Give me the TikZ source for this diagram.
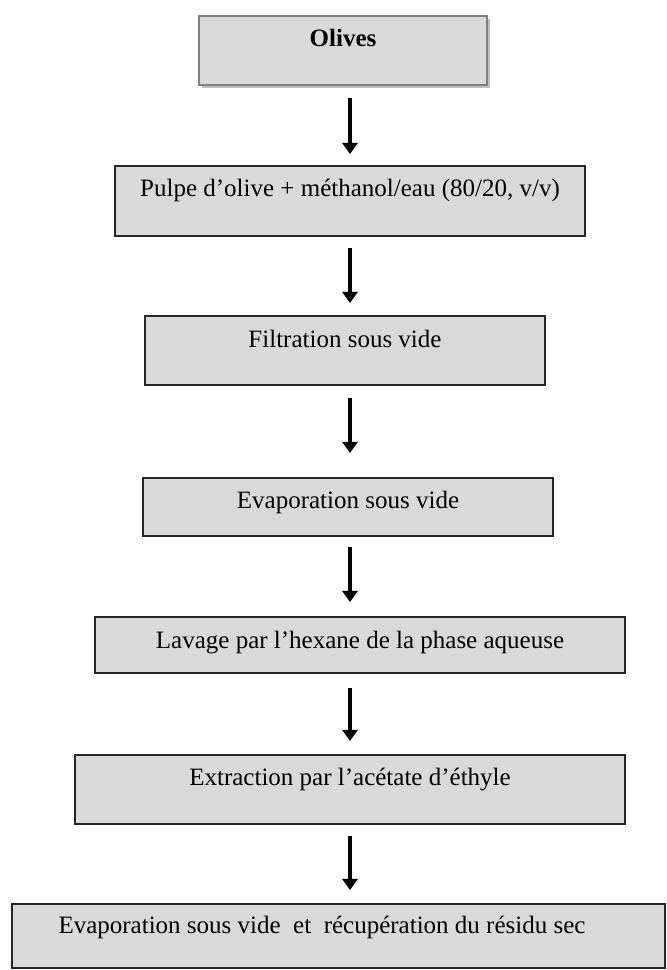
\documentclass[tikz,border=0pt]{standalone}
\usepackage{fontspec}
\setmainfont{Liberation Serif}
\usetikzlibrary{arrows.meta,shadows}

\definecolor{boxgrey}{HTML}{D9D9D9}
\definecolor{rimgrey}{HTML}{7F7F7F}

\tikzset{
    headbox/.style={rectangle, draw=rimgrey, line width=1pt, fill=boxgrey, inner sep=0pt,
        drop shadow={shadow xshift=1.5pt, shadow yshift=-1.5pt, fill=black!25, opacity=1}},
    stepbox/.style={rectangle, draw=black!85, line width=1.1pt, fill=boxgrey, inner sep=0pt},
    steptext/.style={anchor=base, inner sep=0pt, font=\fontsize{12.5}{15}\selectfont},
    headtext/.style={anchor=base, inner sep=0pt, font=\fontsize{12.5}{15}\selectfont\bfseries},
    flowarrow/.style={line width=2pt, -{Triangle[width=7.5pt,length=5.5pt]}},
    arrowshade/.style={flowarrow, draw=black!25, xshift=0.6pt, yshift=-0.6pt}
}

\begin{document}
\begin{tikzpicture}[x=0.5pt,y=-0.5pt]

% Page size, in pixels of the scan.
\useasboundingbox (0,0) rectangle (667,970);

% Draw the Olives box.
\node[headbox, minimum width=144pt, minimum height=34.5pt] (olives) at (343,50.5) {};
\node[headtext] (olives-t) at (343,46) {Olives};

% Draw the steps, one box each.
\node[stepbox, minimum width=235pt, minimum height=35pt] (pulpe) at (350,201) {};
\node[steptext] (pulpe-t) at (350,196) {Pulpe d'olive + méthanol/eau (80/20, v/v)};

\node[stepbox, minimum width=200pt, minimum height=34.5pt] (filt) at (345,350.5) {};
\node[steptext] (filt-t) at (345,347) {Filtration sous vide};

\node[stepbox, minimum width=205pt, minimum height=29pt] (evap) at (348,507) {};
\node[steptext] (evap-t) at (348,508) {Evaporation sous vide};

\node[stepbox, minimum width=265pt, minimum height=28pt] (lav) at (360,645) {};
\node[steptext] (lav-t) at (360,648) {Lavage par l'hexane de la phase aqueuse};

\node[stepbox, minimum width=275pt, minimum height=34.5pt] (extr) at (350,789.5) {};
\node[steptext] (extr-t) at (350,785) {Extraction par l'acétate d'éthyle};

% Last box runs to the edge of the page.
\node[stepbox, minimum width=326.5pt, minimum height=32pt] (res) at (338.5,936) {};
\node[steptext] (res-t) at (322,933) {Evaporation sous vide\ \ et\ \ récupération du résidu sec};

% All arrows sit on one column.
\coordinate (ax) at (350,0);

% Loop for each arrow: from box, to box, gap at start, gap at end.
\foreach \a/\b/\s/\e in {olives/pulpe/6/5.5, pulpe/filt/5.5/6, filt/evap/6/12,
                         evap/lav/5/7, lav/extr/7/6.5, extr/res/5.5/6.5} {
    % soft shade first, then the arrow on top
    \draw[arrowshade, shorten <=\s pt, shorten >=\e pt]
        (\a.south -| ax) -- (\b.north -| ax);
    \draw[flowarrow, shorten <=\s pt, shorten >=\e pt]
        (\a.south -| ax) -- (\b.north -| ax);
}

\end{tikzpicture}
\end{document}
